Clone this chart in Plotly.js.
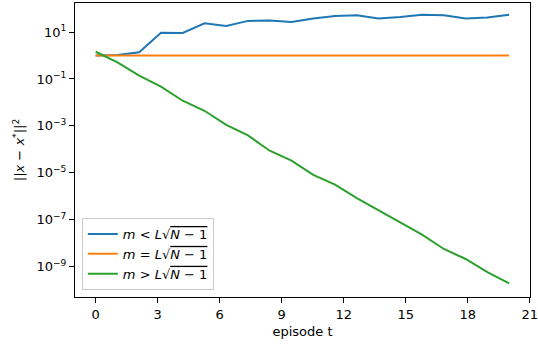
<!DOCTYPE html>
<html>
<head>
<meta charset="utf-8">
<script src="https://cdn.plot.ly/plotly-3.0.1.min.js"></script>
<style>html,body{margin:0;padding:0;background:#fff;}#chart{width:538px;height:344px;}</style>
</head>
<body>
<div id="chart"></div>
<script>
const episodes = [0, 1.053, 2.105, 3.158, 4.211, 5.263, 6.316, 7.368, 8.421, 9.474, 10.526, 11.579, 12.632, 13.684, 14.737, 15.789, 16.842, 17.895, 18.947, 20];
const belowValues = [1.0, 1.05, 1.37, 9.3, 9.1, 23.5, 18, 30, 31.5, 26.6, 38, 49, 52, 38, 43.5, 55, 51.6, 38, 42, 55];
const equalValues = [1, 1, 1, 1, 1, 1, 1, 1, 1, 1, 1, 1, 1, 1, 1, 1, 1, 1, 1, 1];
const aboveValues = [1.45, 0.51, 0.138, 0.047, 0.0118, 0.0044, 1.1e-3, 3.9e-4, 8.7e-5, 3.3e-5, 8.1e-6, 3.1e-6, 8.3e-7, 2.5e-7, 7.2e-8, 2.3e-8, 5.6e-9, 2.1e-9, 5.8e-10, 1.9e-10];
const seriesNames = [
  "<i>m</i> &lt; <i>L</i>√<span style='text-decoration:overline'><i>N</i> − 1</span>",
  "<i>m</i> = <i>L</i>√<span style='text-decoration:overline'><i>N</i> − 1</span>",
  "<i>m</i> &gt; <i>L</i>√<span style='text-decoration:overline'><i>N</i> − 1</span>"
];
const xTicks = [0, 3, 6, 9, 12, 15, 18, 21];
const yTickVals = [10, 0.1, 1e-3, 1e-5, 1e-7, 1e-9];
const yTickText = ["10<sup>1</sup>", "10<sup>−1</sup>", "10<sup>−3</sup>", "10<sup>−5</sup>", "10<sup>−7</sup>", "10<sup>−9</sup>"];
const colors = ["#1f77b4", "#ff7f0e", "#2ca02c"];

const data = [belowValues, equalValues, aboveValues].map((vals, i) => ({
  x: episodes, y: vals, type: "scatter", mode: "lines",
  name: seriesNames[i], line: {color: colors[i], width: 2}
}));

const layout = {
  width: 538, height: 344,
  margin: {l: 75, r: 8, t: 3, b: 47},
  paper_bgcolor: "#fff", plot_bgcolor: "#fff",
  font: {family: "DejaVu Sans", size: 13, color: "#000"},
  showlegend: true,
  legend: {x: 0.015, y: 0.024, xanchor: "left", yanchor: "bottom",
    bgcolor: "rgba(255,255,255,0.8)", bordercolor: "#cccccc", borderwidth: 1,
    font: {size: 13}, tracegroupgap: 0},
  xaxis: {range: [-1, 21.01], tickvals: xTicks, ticktext: xTicks.map(String),
    ticklabeloverflow: "allow",
    showgrid: false, zeroline: false, showline: true, linecolor: "#000", linewidth: 1, mirror: true,
    ticks: "outside", ticklen: 5, tickcolor: "#000",
    title: {text: "episode t", font: {size: 13}, standoff: 6}},
  yaxis: {type: "log", range: [-10.3, 2.24], tickvals: yTickVals, ticktext: yTickText,
    showgrid: false, zeroline: false, showline: true, linecolor: "#000", linewidth: 1, mirror: true,
    ticks: "outside", ticklen: 5, tickcolor: "#000",
    title: {text: "||<i>x</i> − <i>x</i><sup>*</sup>||<sup>2</sup>", font: {size: 13}, standoff: 8}}
};
Plotly.newPlot("chart", data, layout, {displayModeBar: false, staticPlot: true});
</script>
</body>
</html>
